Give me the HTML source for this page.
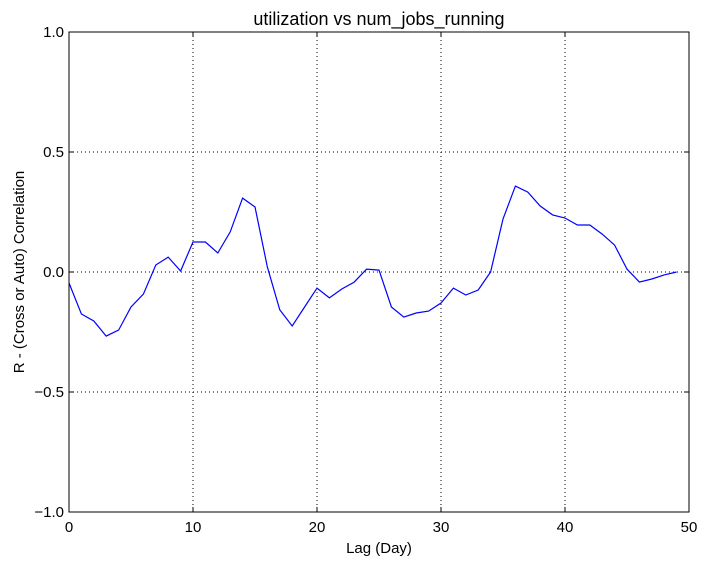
<!DOCTYPE html>
<html><head><meta charset="utf-8"><style>
body{margin:0;background:#fff;}
svg text{font-family:"Liberation Sans",sans-serif;}
</style></head><body>
<svg id="chart" width="707" height="564" xmlns="http://www.w3.org/2000/svg"></svg>
<script>
const lags=[0,1,2,3,4,5,6,7,8,9,10,11,12,13,14,15,16,17,18,19,20,21,22,23,24,25,26,27,28,29,30,31,32,33,34,35,36,37,38,39,40,41,42,43,44,45,46,47,48,49];
const corr=[-0.046,-0.175,-0.204,-0.267,-0.242,-0.146,-0.092,0.029,0.062,0.004,0.125,0.125,0.079,0.167,0.308,0.271,0.02,-0.158,-0.225,-0.146,-0.067,-0.108,-0.071,-0.042,0.012,0.008,-0.146,-0.188,-0.171,-0.163,-0.129,-0.067,-0.096,-0.075,0,0.221,0.358,0.333,0.275,0.238,0.225,0.196,0.196,0.158,0.112,0.012,-0.042,-0.029,-0.012,0];
const xTicks=[0,10,20,30,40,50];
const yTicks=[-1.0,-0.5,0.0,0.5,1.0];
const yTickLabels=["\u22121.0","\u22120.5","0.0","0.5","1.0"];

const L=69,R=689,T=32,B=512;
const sx=v=>L+(v-0)/(50-0)*(R-L);
const sy=v=>B-(v+1)/2*(B-T);
const svg=document.getElementById('chart');
const NS="http://www.w3.org/2000/svg";
function mk(tag,attrs,parent){const e=document.createElementNS(NS,tag);for(const k in attrs)e.setAttribute(k,attrs[k]);(parent||svg).appendChild(e);return e;}

xTicks.forEach(v=>{const l=mk('line',{x1:sx(v),x2:sx(v),y1:T,y2:B,stroke:'#000','stroke-width':1,'stroke-dasharray':'1,3'});

});
yTicks.forEach(v=>{const l=mk('line',{x1:L,x2:R,y1:sy(v),y2:sy(v),stroke:'#000','stroke-width':1,'stroke-dasharray':'1,3'});

});

const pts=lags.map((l,i)=>sx(l).toFixed(1)+','+sy(corr[i]).toFixed(1)).join(' ');
const line=mk('polyline',{points:pts,fill:'none',stroke:'#0000ff','stroke-width':1.2});



const fr=mk('rect',{x:L,y:T,width:R-L,height:B-T,fill:'none',stroke:'#000','stroke-width':1});



xTicks.forEach(v=>{
 mk('line',{x1:sx(v),x2:sx(v),y1:B,y2:B-5,stroke:'#000'});
 mk('line',{x1:sx(v),x2:sx(v),y1:T,y2:T+5,stroke:'#000'});
 const t=mk('text',{x:sx(v),y:B+20,'text-anchor':'middle','font-size':15});
 t.textContent=v;
 
 
});
yTicks.forEach((v,i)=>{
 mk('line',{x1:L,x2:L+5,y1:sy(v),y2:sy(v),stroke:'#000'});
 mk('line',{x1:R,x2:R-5,y1:sy(v),y2:sy(v),stroke:'#000'});
 const t=mk('text',{x:L-5,y:sy(v)+5,'text-anchor':'end','font-size':15});
 t.textContent=yTickLabels[i];
 
 
});

const title=mk('text',{x:(L+R)/2,y:25,'text-anchor':'middle','font-size':18});
title.textContent='utilization vs num_jobs_running';


const xt=mk('text',{x:(L+R)/2,y:553,'text-anchor':'middle','font-size':15});
xt.textContent='Lag (Day)';


const yt=mk('text',{x:0,y:0,'text-anchor':'middle','font-size':15,transform:'translate(24,'+((T+B)/2)+') rotate(-90)'});
yt.textContent='R - (Cross or Auto) Correlation';


</script>
</body></html>
